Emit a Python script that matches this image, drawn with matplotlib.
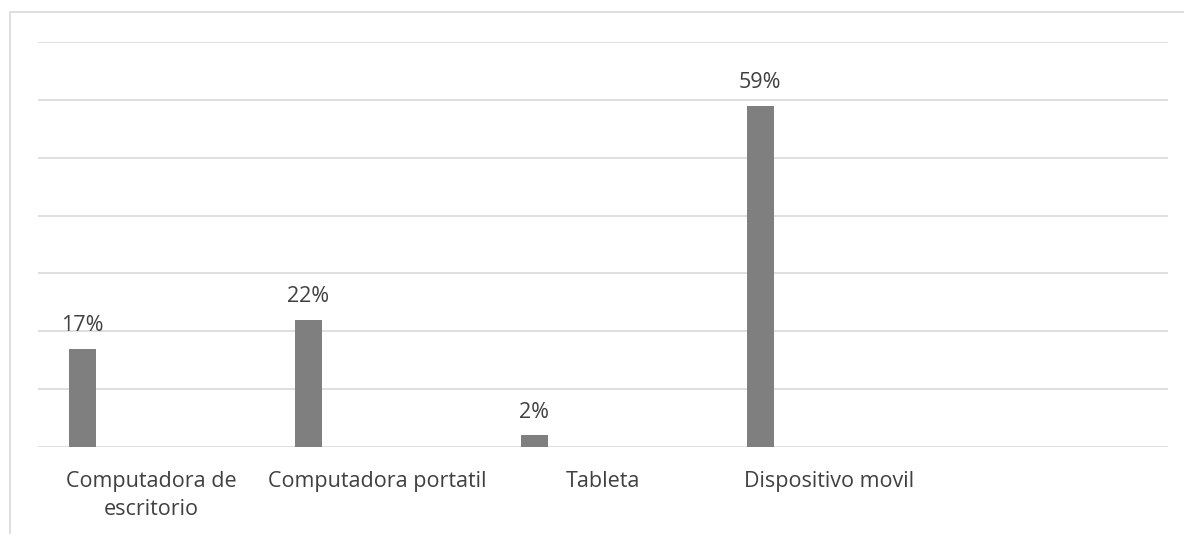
import numpy as np
import matplotlib
matplotlib.use('Agg')
import matplotlib.pyplot as plt
from matplotlib.patches import Rectangle

categories = ['Computadora de\nescritorio', 'Computadora portatil', 'Tableta', 'Dispositivo movil', '']
values = [17, 22, 2, 59, np.nan]
value_labels = ['17%', '22%', '2%', '59%', '']

plt.rcParams['font.family'] = ['Open Sans', 'DejaVu Sans']

BAR_COLOR = '#7f7f7f'
GRID_COLOR = '#d9d9d9'
TEXT_COLOR = '#404040'

fig = plt.figure(figsize=(11.84, 5.34), dpi=100)
fig.patch.set_facecolor('white')

# outer chart frame (open towards right and bottom)
fig.add_artist(Rectangle((10 / 1184, -0.1), 1.2, 1 - 12 / 534 + 0.1,
                         transform=fig.transFigure, fill=False,
                         edgecolor=GRID_COLOR, lw=1.2))

ax = fig.add_axes([38 / 1184, 1 - 447 / 534, 1130 / 1184, 405 / 534])
x = np.arange(len(categories))
offset = -0.305
width = 0.12
ax.bar(x + offset, values, width=width, color=BAR_COLOR, zorder=3)

for xi, v, lab in zip(x, values, value_labels):
    if np.isnan(v):
        continue
    ax.annotate(lab, (xi + offset, v), xytext=(0, 12.5), textcoords='offset points',
                ha='center', va='baseline', fontsize=15.5, color=TEXT_COLOR)

ax.set_xlim(-0.5, len(categories) - 0.5)
ax.set_ylim(0, 70)
ax.set_yticks(np.arange(0, 71, 10))
ax.yaxis.grid(True, color=GRID_COLOR, lw=1.2, zorder=0)
ax.tick_params(axis='y', left=False, labelleft=False)
ax.tick_params(axis='x', bottom=False, pad=14)
ax.set_xticks(x)
ax.set_xticklabels(categories, fontsize=15.5, color=TEXT_COLOR, linespacing=1.4)
for s in ax.spines.values():
    s.set_visible(False)

fig.savefig('out.png', dpi=100)
